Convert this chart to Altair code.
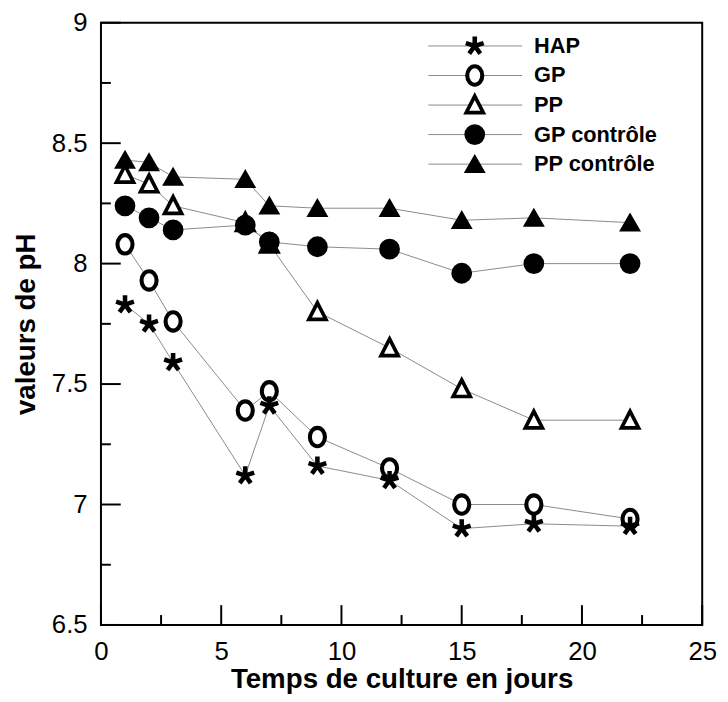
import altair as alt
import pandas as pd

# ---------------- data ----------------
days = [1, 2, 3, 6, 7, 9, 12, 15, 18, 22]
hap = [7.83, 7.75, 7.59, 7.12, 7.41, 7.16, 7.10, 6.90, 6.92, 6.91]
gp = [8.08, 7.93, 7.76, 7.39, 7.47, 7.28, 7.15, 7.00, 7.00, 6.94]
pp = [8.37, 8.33, 8.24, 8.17, 8.08, 7.80, 7.65, 7.48, 7.35, 7.35]
gp_ctrl = [8.24, 8.19, 8.14, 8.16, 8.09, 8.07, 8.06, 7.96, 8.00, 8.00]
pp_ctrl = [8.43, 8.42, 8.36, 8.35, 8.24, 8.23, 8.23, 8.18, 8.19, 8.17]

series_names = ["HAP", "GP", "PP", "GP contrôle", "PP contrôle"]
x_major = [0, 5, 10, 15, 20, 25]
x_minor = [2.5, 7.5, 12.5, 17.5, 22.5]
y_major = [6.5, 7, 7.5, 8, 8.5, 9]
y_minor = [6.75, 7.25, 7.75, 8.25, 8.75]

# ---------------- tables ----------------
values_by_series = {
    "HAP": hap, "GP": gp, "PP": pp, "GP contrôle": gp_ctrl, "PP contrôle": pp_ctrl,
}
draw_order = ["PP", "GP", "HAP", "GP contrôle", "PP contrôle"]
rows = []
for name in draw_order:
    for d, v in zip(days, values_by_series[name]):
        rows.append({"day": d, "ph": v, "series": name})
df = pd.DataFrame(rows)
legend_df = pd.DataFrame({"series": series_names})

W, H = 608, 609

# ---------------- styles ----------------
STAR = "M0,-1L0,0M0,0L-0.95,-0.31M0,0L0.95,-0.31M0,0L-0.59,0.81M0,0L0.59,0.81"
OVAL = "M0,-1A0.82,1,0,1,1,0,1A0.82,1,0,1,1,0,-1Z"
OPEN_TRI = "M0,-1L0.95,0.85L-0.95,0.85Z"

shape_scale = alt.Scale(domain=series_names,
                        range=[STAR, OVAL, OPEN_TRI, "circle", "triangle-up"])
fill_scale = alt.Scale(domain=series_names,
                       range=["black", "white", "white", "black", "black"])
size_scale = alt.Scale(domain=series_names, range=[360, 300, 320, 400, 420])
sw_scale = alt.Scale(domain=series_names, range=[4.6, 2.8, 2.0, 0, 0])

xscale = alt.Scale(domain=[0, 25], nice=False, zero=False)
yscale = alt.Scale(domain=[6.5, 9], nice=False, zero=False)

x_axis = alt.Axis(values=x_major, format="~g", labelFontSize=26, labelColor="black",
                  labelFont="Liberation Sans", ticks=False, tickSize=0, domain=False,
                  grid=False, labelPadding=35, labelBaseline="alphabetic",
                  labelFlush=False, labelOverlap=False, labelBound=False,
                  title="Temps de culture en jours", titleFontSize=28,
                  titleFont="Liberation Sans", titleFontWeight="bold", titleColor="black",
                  titleY=63.5, titleBaseline="alphabetic")
y_axis = alt.Axis(values=y_major, format="~g", labelFontSize=26, labelColor="black",
                  labelFont="Liberation Sans", ticks=False, tickSize=0, domain=False,
                  grid=False, labelPadding=14, labelBaseline="middle",
                  labelFlush=False, labelOverlap=False, labelBound=False,
                  title="valeurs de pH", titleFontSize=28, titleFont="Liberation Sans",
                  titleFontWeight="bold", titleColor="black", titleX=-61, titleY=H / 2,
                  titleAngle=270, titleBaseline="bottom", titleAlign="center")

X_DAY = alt.X("day:Q", scale=xscale, axis=x_axis)
X_V = alt.X("v:Q", scale=xscale, axis=x_axis)

# ---------------- layers ----------------
lines = alt.Chart(df).mark_line(color="#8a8a8a", strokeWidth=1).encode(
    x=X_DAY,
    y=alt.Y("ph:Q", scale=yscale, axis=y_axis),
    detail="series:N",
)

points = alt.Chart(df).mark_point(opacity=1, stroke="black", filled=False).encode(
    x=X_DAY,
    y=alt.Y("ph:Q", scale=yscale, axis=None),
    shape=alt.Shape("series:N", scale=shape_scale, legend=None),
    fill=alt.Fill("series:N", scale=fill_scale, legend=None),
    size=alt.Size("series:N", scale=size_scale, legend=None),
    strokeWidth=alt.StrokeWidth("series:N", scale=sw_scale, legend=None),
)

ytick_major = alt.Chart(pd.DataFrame({"v": y_major})).mark_rule(color="black", strokeWidth=2).encode(
    y=alt.Y("v:Q", scale=yscale, axis=None), x=alt.value(0), x2=alt.value(20))
ytick_minor = alt.Chart(pd.DataFrame({"v": y_minor})).mark_rule(color="black", strokeWidth=2).encode(
    y=alt.Y("v:Q", scale=yscale, axis=None), x=alt.value(0), x2=alt.value(10))
xtick_major = alt.Chart(pd.DataFrame({"v": x_major})).mark_rule(color="black", strokeWidth=2).encode(
    x=X_V, y=alt.value(H), y2=alt.value(H - 20))
xtick_minor = alt.Chart(pd.DataFrame({"v": x_minor})).mark_rule(color="black", strokeWidth=2).encode(
    x=X_V, y=alt.value(H), y2=alt.value(H - 10))

leg_y = alt.Y("series:N", axis=None,
              scale=alt.Scale(type="point", domain=series_names, range=[23.5, 143], padding=0))
leg_lines = alt.Chart(legend_df).mark_rule(color="#8a8a8a", strokeWidth=1).encode(
    y=leg_y, x=alt.value(331), x2=alt.value(426))
leg_points = alt.Chart(legend_df).mark_point(opacity=1, stroke="black", filled=False).encode(
    y=leg_y, x=alt.value(378),
    shape=alt.Shape("series:N", scale=shape_scale, legend=None),
    fill=alt.Fill("series:N", scale=fill_scale, legend=None),
    size=alt.Size("series:N", scale=size_scale, legend=None),
    strokeWidth=alt.StrokeWidth("series:N", scale=sw_scale, legend=None),
)
leg_text = alt.Chart(legend_df).mark_text(align="left", baseline="middle", fontSize=22,
                                          fontWeight="bold", font="Liberation Sans",
                                          color="black").encode(
    y=leg_y, x=alt.value(438), text="series:N")

chart = alt.layer(
    lines, ytick_major, ytick_minor, xtick_major, xtick_minor, points,
    leg_lines, leg_points, leg_text,
).resolve_scale(y="independent").properties(
    width=W, height=H,
    autosize=alt.AutoSizeParams(type="none"),
    padding={"left": 94, "top": 11, "right": 18, "bottom": 72},
).configure(
    font="Liberation Sans", background="white",
    view=alt.ViewConfig(stroke="black", strokeWidth=2),
)

chart.save("out.html", embed_options={"renderer": "svg", "actions": False})
